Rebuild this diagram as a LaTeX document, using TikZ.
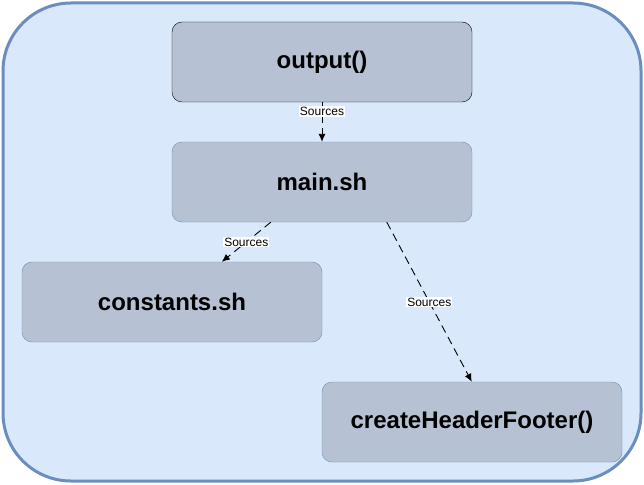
\documentclass[tikz,border=0pt]{standalone}
\usepackage{fontspec}
\setmainfont{Liberation Sans}
\usepackage{xcolor}
\usetikzlibrary{arrows.meta}
\definecolor{panelfill}{HTML}{DAE8FC}
\definecolor{panelline}{HTML}{6C8EBF}
\definecolor{boxfill}{HTML}{B6C2D3}

\begin{document}
\begin{tikzpicture}[x=1pt,y=-1pt,
	filebox/.style={draw=panelline, fill=boxfill, rounded corners=10pt, minimum width=300pt, minimum height=80pt, inner sep=0pt, font=\fontsize{24}{28}\selectfont\bfseries},
	srcarrow/.style={draw=black, line width=0.9pt, dash pattern=on 8pt off 5pt, -{Latex[length=8pt,width=7pt]}},
	srclabel/.style={fill=white, inner sep=1pt, font=\fontsize{12}{14}\selectfont}]
	\useasboundingbox (0,0) rectangle (644,484);
	\draw[draw=panelline, fill=panelfill, line width=3pt, rounded corners=68pt] (3,3) rectangle (641,481);
	\node[filebox, draw=black] (output) at (322,62) {output()};
	\node[filebox] (main) at (322,182) {main.sh};
	\node[filebox] (consts) at (172,302) {constants.sh};
	\node[filebox] (header) at (472,422) {createHeaderFooter()};
	\draw[srcarrow] (output.south) -- node[srclabel, pos=0.24] {Sources} (main.north);
	\draw[srcarrow] ([xshift=99pt]main.south west) -- node[srclabel] {Sources} ([xshift=200pt]consts.north west);
	\draw[srcarrow] ([xshift=215pt]main.south west) -- node[srclabel] {Sources} ([xshift=150pt]header.north west);
\end{tikzpicture}
\end{document}
